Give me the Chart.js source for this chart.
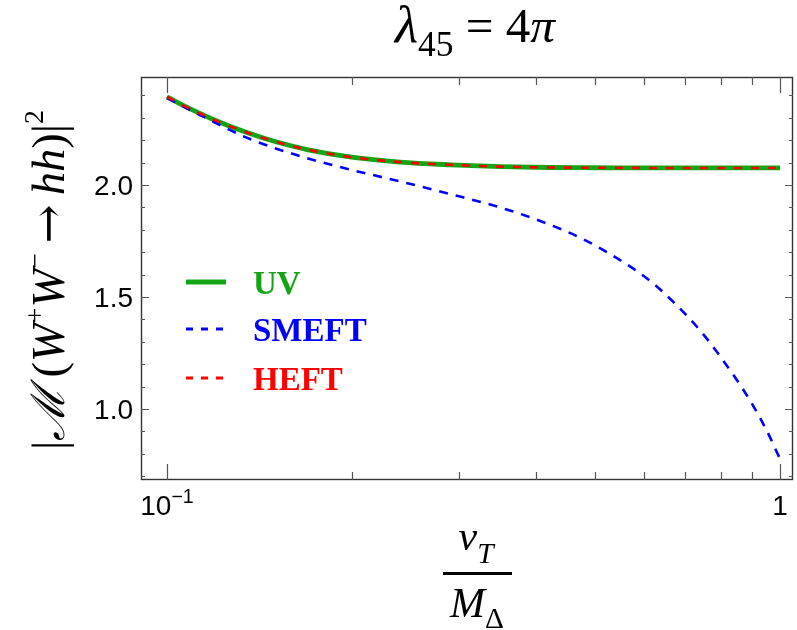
<!DOCTYPE html>
<html>
<head>
<meta charset="utf-8">
<script src="https://cdn.jsdelivr.net/npm/chart.js@4.4.1/dist/chart.umd.min.js"></script>
<style>
  html, body { margin: 0; padding: 0; background: #ffffff; }
  canvas { display: block; }
</style>
</head>
<body>
<canvas id="c" width="797" height="630"></canvas>
<script>
// ---- data ----
const uvX    = [0.100, 0.110, 0.120, 0.135, 0.150, 0.170, 0.200, 0.240, 0.290, 0.350, 0.420, 0.500, 0.650, 0.800, 1.000];
const uvY    = [2.393, 2.335, 2.288, 2.234, 2.194, 2.157, 2.124, 2.102, 2.090, 2.082, 2.078, 2.077, 2.076, 2.076, 2.076];
const heftX  = [0.100, 0.110, 0.120, 0.135, 0.150, 0.170, 0.200, 0.240, 0.290, 0.350, 0.420, 0.500, 0.650, 0.800, 1.000];
const heftY  = [2.393, 2.335, 2.288, 2.234, 2.194, 2.157, 2.124, 2.102, 2.090, 2.082, 2.078, 2.077, 2.076, 2.076, 2.076];
const smeftX = [0.100, 0.1132, 0.1366, 0.1648, 0.1988, 0.2399, 0.2894, 0.3492, 0.4102, 0.4766, 0.5547, 0.6144, 0.6697, 0.7420, 0.7976, 0.8926, 0.9519, 1.000];
const smeftY = [2.388, 2.3125, 2.205, 2.129, 2.069, 2.016, 1.960, 1.900, 1.835, 1.759, 1.656, 1.571, 1.478, 1.348, 1.237, 1.040, 0.902, 0.777];

const seriesNames = ['UV', 'SMEFT', 'HEFT'];
const xTickValues = [0.1, 1];
const xTickLabels = [['10', '−1'], ['1', '']];
const xMinorTicks = [0.2, 0.3, 0.4, 0.5, 0.6, 0.7, 0.8, 0.9];
const yTickValues = [1.0, 1.5, 2.0];
const yTickLabels = ['1.0', '1.5', '2.0'];
const yMinorTicks = [0.7, 0.8, 0.9, 1.1, 1.2, 1.3, 1.4, 1.6, 1.7, 1.8, 1.9, 2.1, 2.2, 2.3, 2.4];

const GREEN = '#14a514';
const BLUE = '#0000ff';
const RED = '#ff0000';

function pts(xs, ys) { return xs.map((x, i) => ({ x: x, y: ys[i] })); }

const SERIF = '"Liberation Serif", "Times New Roman", "DejaVu Serif", serif';
const DSERIF = '"DejaVu Serif", serif';
const SANS = '"Liberation Sans", Arial, sans-serif';

function drawRich(ctx, segs, x, y, align, target, base) {
  base = base || 40;
  const fontOf = (s, size) => (s.b ? 'bold ' : '') + (s.i ? 'italic ' : '') + size.toFixed(2) + 'px ' + (s.fam || SERIF);
  let w = 0;
  segs.forEach(s => { ctx.font = fontOf(s, base * (s.s || 1)); w += ctx.measureText(s.t).width; });
  const k = target ? target / w : 1;
  let cx = align === 'center' ? x - w * k / 2 : (align === 'right' ? x - w * k : x);
  ctx.textAlign = 'left';
  ctx.textBaseline = 'alphabetic';
  segs.forEach(s => {
    const size = base * k * (s.s || 1);
    ctx.font = fontOf(s, size);
    ctx.fillText(s.t, cx, y + (s.dy || 0) * base * k);
    cx += ctx.measureText(s.t).width;
  });
}

const decor = {
  id: 'decor',
  beforeDraw(chart) {
    const ctx = chart.ctx;
    ctx.save();
    ctx.fillStyle = '#ffffff';
    ctx.fillRect(0, 0, chart.width, chart.height);
    ctx.restore();
  },
  afterDraw(chart) {
    const ctx = chart.ctx;
    const xs = chart.scales.x, ys = chart.scales.y;
    const a = chart.chartArea;
    ctx.save();
    // frame
    ctx.strokeStyle = '#333';
    ctx.lineWidth = 1.4;
    ctx.strokeRect(a.left + 0.5, a.top + 0.5, a.right - a.left - 1, a.bottom - a.top - 1);
    // ticks
    ctx.strokeStyle = '#555';
    ctx.lineWidth = 1.2;
    ctx.beginPath();
    const xt = (v, len) => {
      const px = Math.round(xs.getPixelForValue(v)) + 0.5;
      ctx.moveTo(px, a.bottom); ctx.lineTo(px, a.bottom - len);
      ctx.moveTo(px, a.top); ctx.lineTo(px, a.top + len);
    };
    const yt = (v, len) => {
      const py = Math.round(ys.getPixelForValue(v)) + 0.5;
      ctx.moveTo(a.left, py); ctx.lineTo(a.left + len, py);
      ctx.moveTo(a.right, py); ctx.lineTo(a.right - len, py);
    };
    xTickValues.forEach(v => xt(v, 16));
    xMinorTicks.forEach(v => xt(v, 8));
    yTickValues.forEach(v => yt(v, 8));
    yMinorTicks.forEach(v => yt(v, 4));
    ctx.stroke();

    // tick labels
    ctx.fillStyle = '#000';
    yTickValues.forEach((v, i) => {
      const py = ys.getPixelForValue(v);
      drawRich(ctx, [{ t: yTickLabels[i], fam: SANS }], 133, py + 10, 'right', null, 28);
    });
    xTickValues.forEach((v, i) => {
      const px = xs.getPixelForValue(v);
      const [m, sup] = xTickLabels[i];
      const segs = [{ t: m, fam: SANS }];
      if (sup) segs.push({ t: sup, fam: SANS, s: 0.7, dy: -0.42 });
      drawRich(ctx, segs, px, 515, 'center', null, 28);
    });

    // plot title: λ45 = 4π
    drawRich(ctx, [
      { t: 'λ', i: true, s: 1.08 },
      { t: '45', s: 0.72, dy: 0.28 },
      { t: ' = 4' },
      { t: 'π', i: true }
    ], 475, 42, 'center', 160, 40);

    // x-axis title: v_T / M_Δ
    drawRich(ctx, [{ t: 'v', i: true }, { t: 'T', i: true, s: 0.7, dy: 0.3 }], 476, 550, 'center', null, 42);
    ctx.fillRect(443, 572, 69, 3);
    drawRich(ctx, [{ t: 'M', i: true }, { t: 'Δ', s: 0.7, dy: 0.25 }], 477, 617, 'center', null, 42);

    // y-axis title
    ctx.save();
    ctx.translate(64, 280);
    ctx.rotate(-Math.PI / 2);
    drawRich(ctx, [
      { t: '|' },
      { t: 'ℳ', i: true },
      { t: '\u2009(' },
      { t: 'W', i: true },
      { t: '+', s: 0.6, dy: -0.42 },
      { t: 'W', i: true },
      { t: '−', s: 0.6, dy: -0.42 },
      { t: '\u2009' },
      { t: '→', fam: DSERIF },
      { t: '\u2009' },
      { t: 'hh', i: true },
      { t: ')|' },
      { t: '2', s: 0.6, dy: -0.45 }
    ], 0, 0, 'center', 340, 44);
    ctx.restore();

    // legend
    const legendItems = [
      { name: seriesNames[0], color: GREEN, dash: [], lw: 5, y: 282 },
      { name: seriesNames[1], color: BLUE, dash: [7, 8], lw: 3, y: 329 },
      { name: seriesNames[2], color: RED, dash: [7, 8], lw: 3, y: 378 }
    ];
    legendItems.forEach(it => {
      ctx.strokeStyle = it.color;
      ctx.lineWidth = it.lw;
      ctx.setLineDash(it.dash);
      ctx.beginPath();
      ctx.moveTo(186, it.y); ctx.lineTo(226, it.y);
      ctx.stroke();
      ctx.setLineDash([]);
      ctx.fillStyle = it.color;
      drawRich(ctx, [{ t: it.name, b: true }], 253, it.y + 12, 'left', null, 33);
    });
    ctx.restore();
  }
};

new Chart(document.getElementById('c'), {
  type: 'line',
  data: {
    datasets: [
      { label: seriesNames[2], data: pts(heftX, heftY), borderColor: RED, borderWidth: 2.6, borderDash: [8, 9], pointRadius: 0, cubicInterpolationMode: 'monotone', fill: false },
      { label: seriesNames[1], data: pts(smeftX, smeftY), borderColor: BLUE, borderWidth: 2.6, borderDash: [9, 8], pointRadius: 0, cubicInterpolationMode: 'monotone', fill: false },
      { label: seriesNames[0], data: pts(uvX, uvY), borderColor: GREEN, borderWidth: 4.8, pointRadius: 0, cubicInterpolationMode: 'monotone', fill: false }
    ]
  },
  options: {
    responsive: false,
    animation: false,
    layout: { padding: { left: 141, right: 4, top: 77, bottom: 150 } },
    scales: {
      x: { type: 'logarithmic', min: 0.0907, max: 1.05, display: false },
      y: { type: 'linear', min: 0.683, max: 2.482, display: false }
    },
    plugins: { legend: { display: false }, tooltip: { enabled: false } }
  },
  plugins: [decor]
});
</script>
</body>
</html>
